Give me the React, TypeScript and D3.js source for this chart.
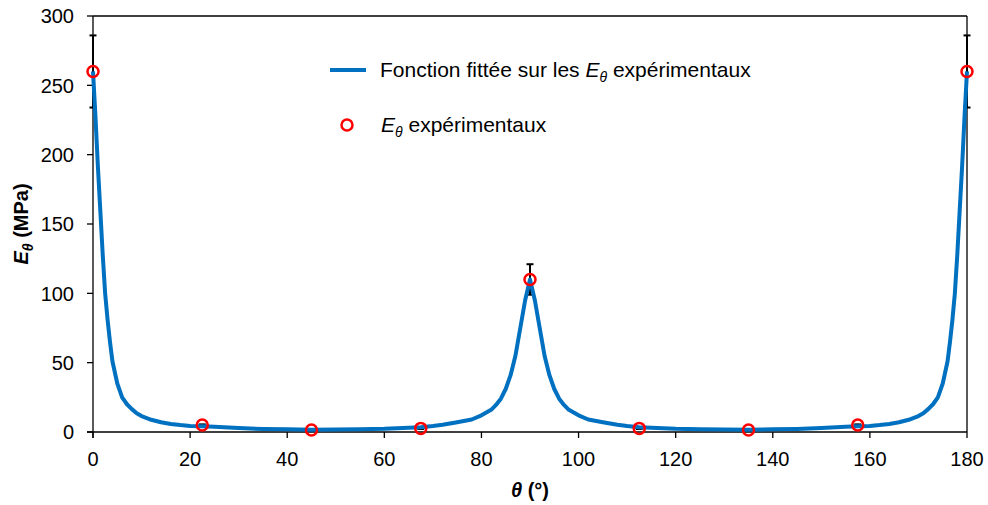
import React from "react";
import * as d3 from "d3";

const curveAngles = [0, 0.5, 1, 1.5, 2, 2.5, 3, 3.5, 4, 5, 6, 7, 8, 9, 10, 12, 14, 16, 18, 20, 22.5, 25, 30, 35, 40, 45, 50, 55, 60, 65, 67.5, 70, 72, 75, 78, 80, 82, 83, 84, 85, 86, 87, 88, 89, 90,
  91, 92, 93, 94, 95, 96, 97, 98, 100, 102, 105, 108, 110, 112.5, 115, 120, 125, 130, 135, 140, 145, 150, 155, 157.5, 160, 162, 164, 166, 168, 170, 171, 172, 173, 174, 175, 176, 176.5, 177, 177.5, 178, 178.5, 179, 179.5, 180];
const curveValues = [260, 228, 192, 160, 128, 100, 81, 65, 51, 35, 25, 20, 16.5, 13.5, 11.5, 8.8, 7, 5.8, 5, 4.4, 4.2, 3.7, 2.8, 2.2, 1.9, 1.7, 1.8, 2.0, 2.3, 3.0, 3.5, 4.3, 5.2, 7, 9, 12, 16, 19.5, 24, 31, 41, 55, 75, 95, 110,
  95, 75, 55, 41, 31, 24, 19.5, 16, 12, 9, 7, 5.2, 4.3, 3.5, 3.0, 2.3, 2.0, 1.8, 1.7, 1.9, 2.2, 2.8, 3.7, 4.2, 4.4, 5, 5.8, 7, 8.8, 11.5, 13.5, 16.5, 20, 25, 35, 51, 65, 81, 100, 128, 160, 192, 228, 260];

const expAngles = [0, 22.5, 45, 67.5, 90, 112.5, 135, 157.5, 180];
const expValues = [260, 5, 1.4, 2.6, 110, 2.6, 1.4, 5, 260];
const expErrors = [26, 0.5, 0.3, 0.4, 11, 0.4, 0.3, 0.5, 26];

const xTicks = [0, 20, 40, 60, 80, 100, 120, 140, 160, 180];
const yTicks = [0, 50, 100, 150, 200, 250, 300];

const W = 988, H = 505;
const L = 93, R = 967, T = 16, B = 432;
const FONT = "'Liberation Sans', Arial, Helvetica, sans-serif";
const BLUE = "#0070C0";

export default function App() {
  const x = d3.scaleLinear().domain([0, 180]).range([L, R]);
  const y = d3.scaleLinear().domain([0, 300]).range([B, T]);
  const pts = curveAngles.map((a, i) => [a, curveValues[i]] as [number, number]);
  const line = d3.line<[number, number]>().x(d => x(d[0])).y(d => y(d[1]));

  return (
    <svg width={W} height={H} style={{ position: "absolute", left: 0, top: 0, background: "#fff" }} fontFamily={FONT}>
      <rect x={0} y={0} width={W} height={H} fill="#fff" />
      {/* frame */}
      <line x1={L} y1={T} x2={R} y2={T} stroke="#000" strokeWidth={1.3} />
      <line x1={R} y1={T} x2={R} y2={B} stroke="#000" strokeWidth={1.3} />
      <line x1={L} y1={T} x2={L} y2={B + 6} stroke="#000" strokeWidth={1.3} />
      <line x1={L - 6} y1={B} x2={R} y2={B} stroke="#000" strokeWidth={1.3} />
      {yTicks.map(t => (
        <g key={"y" + t}>
          <line x1={L - 6} x2={L} y1={y(t)} y2={y(t)} stroke="#000" strokeWidth={1.3} />
          <text x={L - 19} y={y(t)} dy="0.36em" textAnchor="end" fontSize={20}>{t}</text>
        </g>
      ))}
      {xTicks.map(t => (
        <g key={"x" + t}>
          <line x1={x(t)} x2={x(t)} y1={B} y2={B + 6} stroke="#000" strokeWidth={1.3} />
          <text x={x(t)} y={B + 34} textAnchor="middle" fontSize={20}>{t}</text>
        </g>
      ))}
      {/* axis titles */}
      <text transform={`translate(28,${(T + B) / 2}) rotate(-90)`} textAnchor="middle" fontSize={20} fontWeight="bold">
        <tspan fontStyle="italic">E</tspan>
        <tspan fontStyle="italic" fontSize={14} dy={5}>θ</tspan>
        <tspan dy={-5}> (MPa)</tspan>
      </text>
      <text x={(L + R) / 2} y={497} textAnchor="middle" fontSize={20} fontWeight="bold">
        <tspan fontStyle="italic">θ</tspan>
        <tspan> (°)</tspan>
      </text>
      {/* error bars */}
      {expAngles.map((a, i) => (
        <g key={"e" + i} stroke="#000" strokeWidth={2}>
          <line x1={x(a)} x2={x(a)} y1={y(expValues[i] + expErrors[i])} y2={y(expValues[i] - expErrors[i])} />
          <line x1={x(a) - 3.5} x2={x(a) + 3.5} y1={y(expValues[i] + expErrors[i])} y2={y(expValues[i] + expErrors[i])} />
          <line x1={x(a) - 3.5} x2={x(a) + 3.5} y1={y(expValues[i] - expErrors[i])} y2={y(expValues[i] - expErrors[i])} />
        </g>
      ))}
      {/* fitted curve */}
      <path d={line(pts) || ""} fill="none" stroke={BLUE} strokeWidth={4} strokeLinejoin="round" />
      {/* experimental points */}
      {expAngles.map((a, i) => (
        <circle key={"p" + i} cx={x(a)} cy={y(expValues[i])} r={5.5} fill="none" stroke="#FF0000" strokeWidth={2.5} />
      ))}
      {/* legend */}
      <line x1={330} x2={366} y1={70} y2={70} stroke={BLUE} strokeWidth={4} />
      <text x={380} y={77} fontSize={21}>
        <tspan>Fonction fittée sur les </tspan>
        <tspan fontStyle="italic">E</tspan>
        <tspan fontStyle="italic" fontSize={14} dy={5}>θ</tspan>
        <tspan dy={-5}> expérimentaux</tspan>
      </text>
      <circle cx={347} cy={125} r={5.5} fill="none" stroke="#FF0000" strokeWidth={2.5} />
      <text x={381} y={132} fontSize={21}>
        <tspan fontStyle="italic">E</tspan>
        <tspan fontStyle="italic" fontSize={14} dy={5}>θ</tspan>
        <tspan dy={-5}> expérimentaux</tspan>
      </text>
    </svg>
  );
}
